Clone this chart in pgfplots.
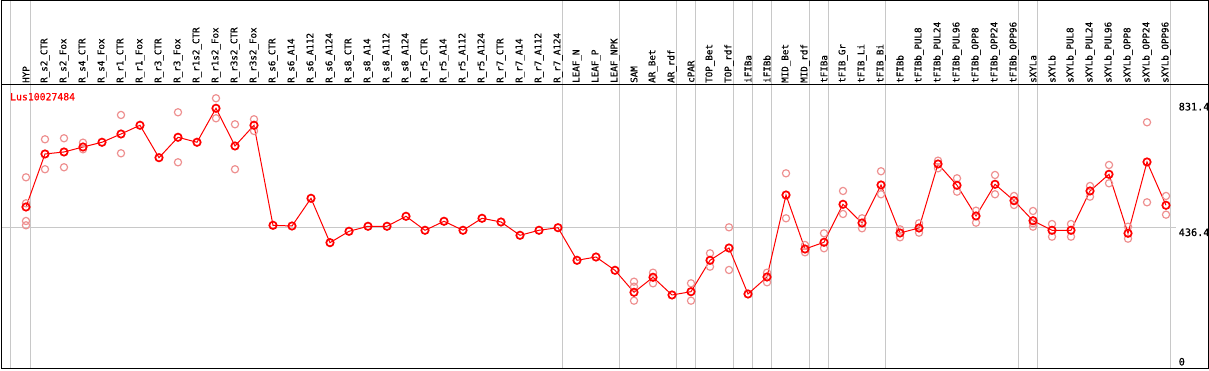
\documentclass[border=0pt]{standalone}
\usepackage{pgfplots}
\pgfplotsset{compat=1.18}
\usepackage{pgfplotstable}
\usepackage{fontspec}
\newfontfamily\monof{DejaVu Sans Mono}
\newfontfamily\monob{DejaVu Sans Mono}[FakeBold=0.6]
\definecolor{sep}{RGB}{200,200,200}
\definecolor{rep}{RGB}{238,145,145}

\pgfplotstableread{
x y
0 502.4
1 669.5
2 675.8
3 691.5
4 706.4
5 732.5
6 760.0
7 657.8
8 722.1
9 706.4
10 813.5
11 694.7
12 760.0
13 444.7
14 442.5
15 529.8
16 390.0
17 425.8
18 441.6
19 441.6
20 473.1
21 429.0
22 457.4
23 429.0
24 466.8
25 455.1
26 413.2
27 429.0
28 437.2
29 334.4
30 344.8
31 302.9
32 233.6
33 280.9
34 225.1
35 235.5
36 334.4
37 373.2
38 228.2
39 281.8
40 540.2
41 370.0
42 391.2
43 510.9
44 452.0
45 571.8
46 420.5
47 436.2
48 638.0
49 570.8
50 474.1
51 574.0
52 522.3
53 459.2
54 429.0
55 429.0
56 552.9
57 605.5
58 419.5
59 644.3
60 507.8
}\means

\pgfplotstableread{
x y
0 596.0
0 514.1
0 458.3
0 444.7
1 715.8
1 621.4
2 719.0
2 627.6
3 705.1
3 684.3
5 792.4
5 671.7
8 800.9
8 643.3
10 845.1
10 782.0
11 763.1
11 621.3
12 778.9
12 742.0
32 267.0
32 207.1
32 251.2
33 295.3
33 261.9
35 261.9
35 207.1
36 356.5
36 314.3
37 438.4
37 303.9
39 295.3
39 265.1
40 608.6
40 466.8
41 382.7
41 359.6
42 419.5
42 372.3
43 552.9
43 480.4
44 466.8
44 435.3
45 615.0
45 542.5
46 432.1
46 406.9
47 451.0
47 421.4
48 648.4
48 624.4
49 592.9
49 550.7
50 490.8
50 452.9
51 603.3
51 542.5
52 537.1
52 508.7
53 489.8
53 440.3
53 451.0
54 448.8
54 408.8
55 448.8
55 408.8
56 568.6
56 534.9
57 634.8
57 577.1
58 440.3
58 402.5
59 769.4
59 517.2
60 537.1
60 478.2
}\reps

\pgfplotsset{base/.style={
  at={(1.5pt,2pt)}, anchor=south west,
  width=1206.5pt, height=283pt, scale only axis,
  xmin=-1.289, xmax=62.21, ymin=-5.04, ymax=886.9,
  clip=false}}

\begin{document}
\begin{tikzpicture}
\useasboundingbox (0,0) rectangle (1209pt,370pt);
\begin{axis}[base, hide axis]
\pgfplotsinvokeforeach{-0.84,0.25,28.25,31.25,34.25,35.25,37.25,38.25,39.25,41.25,42.25,45.25,52.25,53.25,60.25}{
  \draw[sep, line width=1pt] (axis cs:#1,-5.04) -- (axis cs:#1,1154.9);
}
\draw[sep, line width=1pt] (axis cs:-1.289,436.4) -- (axis cs:60.55,436.4);
\end{axis}
\begin{axis}[
  base,
  axis line style={black, line width=1pt},
  xtick={0,...,60},
  xticklabel pos=upper,
  major tick length=0pt,
  xtick style={draw=none},
  ytick=\empty,
  xticklabel style={font=\monob\fontsize{9.2}{9.2}\selectfont, rotate=90, anchor=west, inner sep=2pt},
  xticklabels={HYP,R\_s2\_CTR,R\_s2\_Fox,R\_s4\_CTR,R\_s4\_Fox,R\_r1\_CTR,R\_r1\_Fox,R\_r3\_CTR,R\_r3\_Fox,R\_r1s2\_CTR,R\_r1s2\_Fox,R\_r3s2\_CTR,R\_r3s2\_Fox,R\_s6\_CTR,R\_s6\_A14,R\_s6\_A112,R\_s6\_A124,R\_s8\_CTR,R\_s8\_A14,R\_s8\_A112,R\_s8\_A124,R\_r5\_CTR,R\_r5\_A14,R\_r5\_A112,R\_r5\_A124,R\_r7\_CTR,R\_r7\_A14,R\_r7\_A112,R\_r7\_A124,LEAF\_N,LEAF\_P,LEAF\_NPK,SAM,AR\_Bet,AR\_rdf,cPAR,TOP\_Bet,TOP\_rdf,iFIBa,iFIBb,MID\_Bet,MID\_rdf,tFIBa,tFIB\_Gr,tFIB\_Li,tFIB\_Bi,tFIBb,tFIBb\_PUL8,tFIBb\_PUL24,tFIBb\_PUL96,tFIBb\_OPP8,tFIBb\_OPP24,tFIBb\_OPP96,sXYLa,sXYLb,sXYLb\_PUL8,sXYLb\_PUL24,sXYLb\_PUL96,sXYLb\_OPP8,sXYLb\_OPP24,sXYLb\_OPP96},
]
\addplot[only marks, mark=o, mark size=3.6pt, rep, mark options={line width=1.2pt}] table[x=x,y=y] {\reps};
\addplot[red, line width=1pt, mark=o, mark size=3.7pt, mark options={line width=1.7pt}] table[x=x,y=y] {\means};

\node[anchor=west, red, inner sep=0pt, font=\monob\fontsize{9.8}{10}\selectfont] at (axis cs:-0.842,850) {Lus10027484};
\node[anchor=west, inner sep=0pt, font=\monob\fontsize{10.2}{10}\selectfont] at (axis cs:60.66,818.6) {831.4};
\node[anchor=west, inner sep=0pt, font=\monob\fontsize{10.2}{10}\selectfont] at (axis cs:60.66,422.7) {436.4};
\node[anchor=west, inner sep=0pt, font=\monob\fontsize{10.2}{10}\selectfont] at (axis cs:60.66,14.8) {0};
\end{axis}
\draw[black, line width=1pt] (1.5pt,285pt) -- (1.5pt,369.5pt) -- (1208pt,369.5pt) -- (1208pt,285pt);
\end{tikzpicture}
\end{document}
